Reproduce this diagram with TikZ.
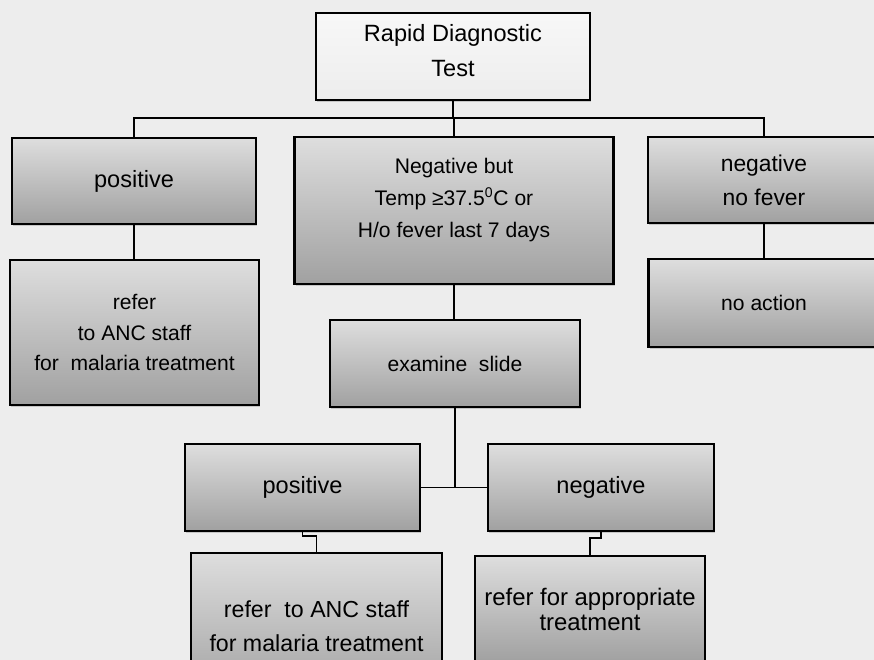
\documentclass[tikz,border=0pt]{standalone}
\usepackage{fontspec}
\setmainfont{Liberation Sans}
\usetikzlibrary{shadows}
\tikzset{
	box/.style={draw=black, line width=1.2pt, top color=gray!26, bottom color=gray!74,
		align=center, inner sep=0pt,
		drop shadow={shadow xshift=0.7pt, shadow yshift=-0.9pt, opacity=0.35}},
	txt/.style={align=center, inner sep=0pt},
	link/.style={line width=1.1pt}
}
\begin{document}
\begin{tikzpicture}
		\useasboundingbox (0,0) rectangle (17.48,-13.2);
		%paper
		\fill[black!7] (0,0) rectangle (17.48,-13.2);
		\clip (0,0) rectangle (17.48,-13.2);
		%top
		\node[box, top color=white!97!black, bottom color=white!93!black, minimum width=5.48cm, minimum height=1.74cm] (rdt) at (9.06,-1.13) {};
		\node[txt, font=\fontsize{13.4}{20}\selectfont] (rdttxt) at (9.06,-1.01) {Rapid Diagnostic\\Test};
		%first row
		\node[box, minimum width=4.88cm, minimum height=1.72cm, font=\fontsize{13.4}{18}\selectfont] (pos) at (2.68,-3.62) {positive};
		\node[box, minimum width=6.38cm, minimum height=2.94cm] (negfev) at (9.08,-4.21) {};
		\node[txt, font=\fontsize{12}{18}\selectfont] (negtxt) at (9.08,-4.00) {Negative but\\Temp ≥37.5\textsuperscript{0}C or\\H/o fever last 7 days};
		\node[box, minimum width=4.64cm, minimum height=1.72cm, font=\fontsize{13}{19.5}\selectfont] (nofev) at (15.28,-3.60) {negative\\no fever};
		%second row
		\node[box, minimum width=4.98cm, minimum height=2.90cm, font=\fontsize{12}{17.5}\selectfont] (refer1) at (2.69,-6.65) {refer\\to ANC staff\\for~ malaria treatment};
		\node[box, minimum width=5.00cm, minimum height=1.74cm, font=\fontsize{12}{18}\selectfont] (exam) at (9.10,-7.27) {examine~ slide};
		\node[box, minimum width=4.62cm, minimum height=1.76cm, font=\fontsize{12}{18}\selectfont] (noact) at (15.28,-6.06) {no action};
		%slide result
		\node[box, minimum width=4.70cm, minimum height=1.74cm, font=\fontsize{13.4}{19}\selectfont] (pos2) at (6.05,-9.75) {positive};
		\node[box, minimum width=4.52cm, minimum height=1.74cm, font=\fontsize{13.4}{19}\selectfont] (neg2) at (12.02,-9.75) {negative};
		\node[box, minimum width=5.02cm, minimum height=2.94cm, font=\fontsize{13.2}{19.3}\selectfont] (refer2) at (6.33,-12.53) {refer~ to ANC staff\\for malaria treatment};
		\node[box, minimum width=4.60cm, minimum height=2.12cm, font=\fontsize{13.6}{14.2}\selectfont] (approp) at (11.80,-12.18) {refer for appropriate\\treatment};
		%links
		\coordinate (bus) at (0,-2.36);
		\draw[link] (rdt.south) -- (rdt.south |- bus);
		\draw[link] (pos.north) -- (pos.north |- bus) -- (nofev.north |- bus) -- (nofev.north);
		\draw[link] (negfev.north) -- (negfev.north |- bus);
		\draw[link] (pos.south) -- (pos.south |- refer1.north);
		\draw[link] (negfev.south) -- (negfev.south |- exam.north);
		\draw[link] (nofev.south) -- (nofev.south |- noact.north);
		\draw[link] (exam.south) -- (exam.south |- pos2.east);
		\draw[link] (pos2.east) -- (neg2.west);
		\draw[link] (pos2.south) -- ++(0,-0.08) -| (refer2.north);
		\draw[link] (neg2.south) -- ++(0,-0.12) -| (approp.north);
\end{tikzpicture}
\end{document}
